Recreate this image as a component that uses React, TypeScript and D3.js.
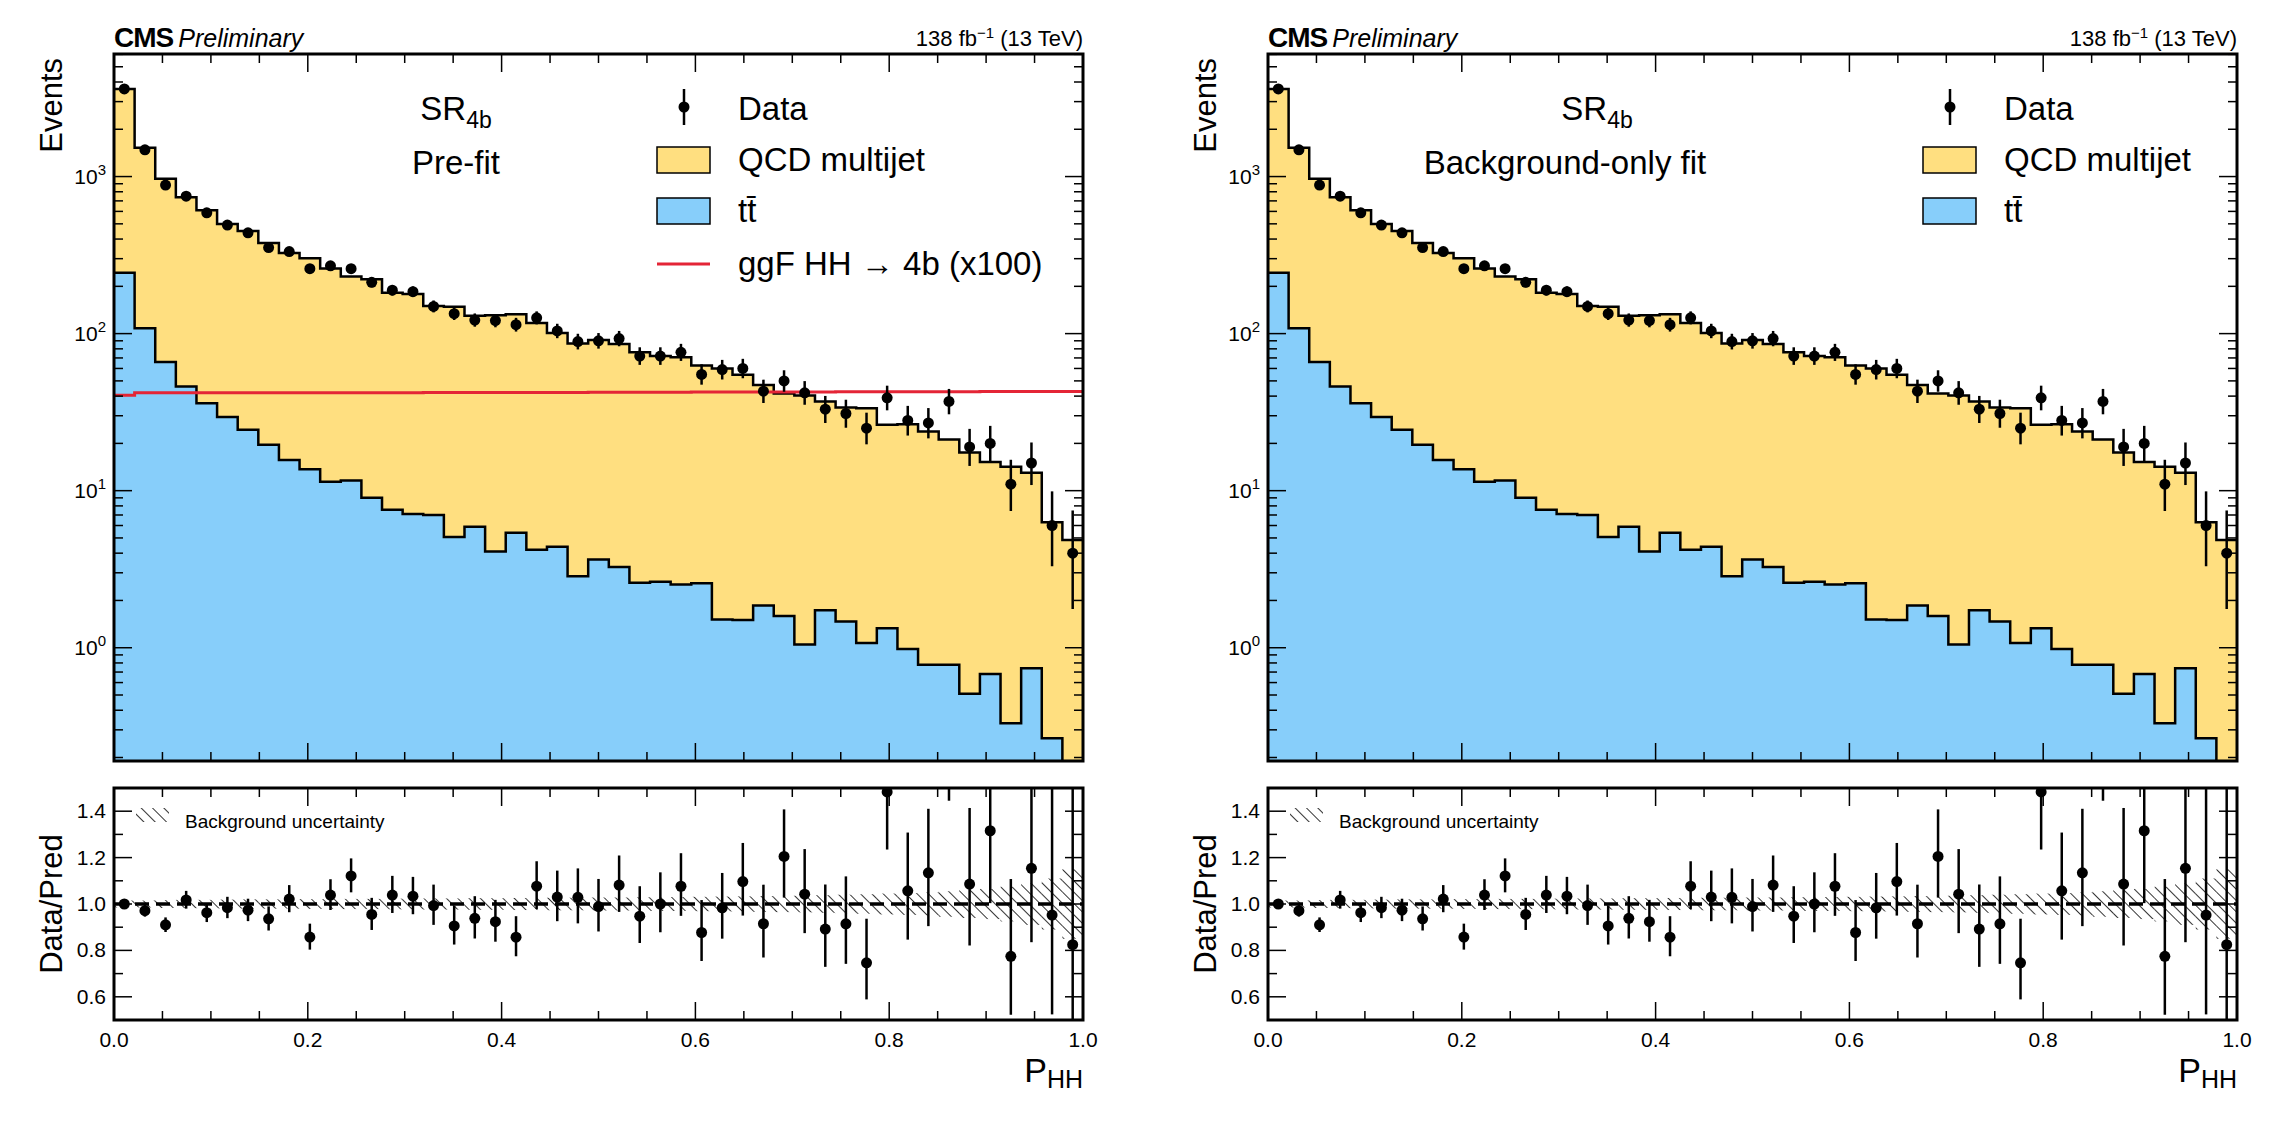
import * as React from 'react';
import * as d3 from 'd3';

// 47 uniform bins in P_HH
const nBins = 47;
const dataCounts = [3615, 1480, 882, 750, 588, 491, 438, 353, 333, 259, 270, 259, 212, 189, 185, 149, 134, 122, 121, 114, 126, 104, 89, 90, 93, 72, 72, 76, 55, 59, 60, 43, 50, 42, 33, 31, 25, 39, 28, 27, 37, 19, 20, 11, 15, 6, 4];
const totalBkg = [3615, 1524, 969, 737, 611, 499, 450, 377, 326, 302, 260, 231, 222, 182, 179, 150, 148, 130, 131, 133, 117, 101, 86.5, 91, 86, 76, 72, 70.6, 62.7, 60, 54.7, 47, 41.5, 40.3, 37, 33.9, 33.5, 26.3, 26.5, 23.8, 21.2, 17.5, 15.2, 14.2, 13, 6.3, 4.85];
const ttbar = [244, 108, 66, 46, 36, 29.4, 24.4, 19.6, 15.7, 13.7, 11.4, 11.6, 9.0, 7.55, 7.1, 7.0, 5.07, 5.9, 4.1, 5.4, 4.2, 4.4, 2.85, 3.64, 3.26, 2.59, 2.63, 2.53, 2.57, 1.51, 1.5, 1.86, 1.59, 1.05, 1.73, 1.47, 1.07, 1.33, 0.98, 0.78, 0.78, 0.51, 0.68, 0.33, 0.74, 0.265, 0.1];
const signalX100 = [40.5, 42, 42, 42, 42, 42, 42, 42, 42, 42, 42, 42, 42, 42, 42, 42.2, 42.2, 42.2, 42.2, 42.2, 42.2, 42.2, 42.2, 42.3, 42.3, 42.3, 42.3, 42.3, 42.5, 42.5, 42.5, 42.5, 42.5, 42.5, 42.5, 42.6, 42.6, 42.6, 42.6, 42.7, 42.7, 42.7, 42.8, 42.8, 42.8, 42.8, 42.8];
const bkgRelUnc = [0.015, 0.015, 0.017, 0.018, 0.018, 0.019, 0.02, 0.02, 0.02, 0.021, 0.021, 0.022, 0.022, 0.023, 0.023, 0.024, 0.024, 0.025, 0.025, 0.026, 0.026, 0.027, 0.027, 0.028, 0.028, 0.029, 0.03, 0.03, 0.031, 0.032, 0.033, 0.034, 0.035, 0.036, 0.038, 0.04, 0.042, 0.045, 0.047, 0.05, 0.055, 0.06, 0.065, 0.075, 0.09, 0.11, 0.15];
const xTicks = [0, 0.2, 0.4, 0.6, 0.8, 1.0];
const ratioTicks = [0.6, 0.8, 1.0, 1.2, 1.4];
const yDecades = [0, 1, 2, 3];

const W = 2284, H = 1134;
const FONT = 'Liberation Sans, Arial, Helvetica, sans-serif';
const QCD_COL = '#ffdf80';
const TT_COL = '#87cefa';

function garwood(n: number) {
  return [Math.max(n - Math.sqrt(Math.max(n - 0.25, 0)) - 0.3, 0), n + 1.3 + Math.sqrt(n + 0.75)];
}

interface PanelProps {
  x0: number;
  id: string;
  lines: string[];
  lineX: number[];
  legendShift: number;
  showSignal: boolean;
}

function Panel({ x0, id, lines, lineX, legendShift, showSignal }: PanelProps) {
  const x1 = x0 + 969;
  const mTop = 54, mBot = 761, rTop = 788, rBot = 1020;
  const x = d3.scaleLinear().domain([0, 1]).range([x0, x1]);
  const y = d3.scaleLog().domain([0.19, 6030]).range([mBot, mTop]);
  const yr = d3.scaleLinear().domain([0.5, 1.5]).range([rBot, rTop]);
  const edges = d3.range(nBins + 1).map(i => i / nBins);
  const centers = d3.range(nBins).map(i => (i + 0.5) / nBins);

  const stepPts = (vals: number[]) => [...vals, vals[vals.length - 1]].map((v, i) => [edges[i], v] as [number, number]);
  const area = d3.area<[number, number, number]>().x(d => x(d[0])).y0(d => d[1]).y1(d => d[2]).curve(d3.curveStepAfter);
  const line = d3.line<[number, number]>().x(d => x(d[0])).y(d => y(d[1])).curve(d3.curveStepAfter);

  const ttPts = stepPts(ttbar);
  const totPts = stepPts(totalBkg);
  const ttArea = area(ttPts.map(p => [p[0], mBot + 5, y(p[1])]));
  const qcdArea = area(ttPts.map((p, i) => [p[0], y(p[1]), y(totPts[i][1])]));

  const ticksY: JSX.Element[] = [];
  for (let d = -1; d <= 3; d++) {
    for (let m = 1; m <= 9; m++) {
      const v = m * Math.pow(10, d);
      if (v < 0.19 || v > 6030) continue;
      const len = m === 1 ? 18 : 9;
      ticksY.push(<line key={'l' + v} x1={x0} x2={x0 + len} y1={y(v)} y2={y(v)} stroke="#000" strokeWidth={1.5} />);
      ticksY.push(<line key={'r' + v} x1={x1} x2={x1 - len} y1={y(v)} y2={y(v)} stroke="#000" strokeWidth={1.5} />);
    }
  }
  const minorX = d3.range(0, 21).map(i => i * 0.05);
  const xTickMarks = (top: number, bot: number, k: string) => minorX.map(v => {
    const major = Math.abs(v * 5 - Math.round(v * 5)) < 1e-6;
    const len = major ? 18 : 9;
    return <g key={k + v}>
      <line x1={x(v)} x2={x(v)} y1={bot} y2={bot - len} stroke="#000" strokeWidth={1.5} />
      <line x1={x(v)} x2={x(v)} y1={top} y2={top + len} stroke="#000" strokeWidth={1.5} />
    </g>;
  });
  const ratioMinor = d3.range(0, 11).map(i => 0.5 + i * 0.1);

  const lx = x0 + 543 + legendShift;
  const ratio = dataCounts.map((n, i) => n / totalBkg[i]);

  return <g>
    <defs>
      <clipPath id={'cm' + id}><rect x={x0} y={mTop} width={969} height={mBot - mTop} /></clipPath>
      <clipPath id={'cr' + id}><rect x={x0} y={rTop} width={969} height={rBot - rTop} /></clipPath>
      <pattern id={'hatch' + id} patternUnits="userSpaceOnUse" width={8} height={8} patternTransform="rotate(-45)">
        <line x1={0} y1={0} x2={0} y2={8} stroke="#000" strokeWidth={1.6} />
      </pattern>
    </defs>
    {/* main panel */}
    <g clipPath={`url(#cm${id})`}>
      <path d={qcdArea || ''} fill={QCD_COL} />
      <path d={ttArea || ''} fill={TT_COL} />
      <path d={line(ttPts) || ''} fill="none" stroke="#000" strokeWidth={2.5} />
      <path d={line(totPts) || ''} fill="none" stroke="#000" strokeWidth={2.5} />
      {showSignal && <path d={line(stepPts(signalX100)) || ''} fill="none" stroke="#e42536" strokeWidth={3} />}
      {dataCounts.map((n, i) => {
        const [lo, hi] = garwood(n);
        return <g key={i}>
          <line x1={x(centers[i])} x2={x(centers[i])} y1={y(Math.max(lo, 0.01))} y2={y(hi)} stroke="#000" strokeWidth={2.5} />
          <circle cx={x(centers[i])} cy={y(n)} r={5.5} fill="#000" />
        </g>;
      })}
    </g>
    {ticksY}
    {xTickMarks(mTop, mBot, 'm')}
    <rect x={x0} y={mTop} width={969} height={mBot - mTop} fill="none" stroke="#000" strokeWidth={3} />
    {yDecades.map(d => <text key={d} x={x0 - 8} y={y(Math.pow(10, d)) + 7} textAnchor="end" fontFamily={FONT} fontSize={21}>
      10<tspan dy={-9} fontSize={15}>{d}</tspan></text>)}
    <text transform={`translate(${x0 - 52},${mTop + 4}) rotate(-90)`} textAnchor="end" fontFamily={FONT} fontSize={31}>Events</text>
    <text x={x0} y={47} fontFamily={FONT} fontSize={28} fontWeight="bold" letterSpacing={-1}>CMS<tspan fontWeight="normal" fontStyle="italic" fontSize={25} dx={5} letterSpacing={0}>Preliminary</tspan></text>
    <text x={x1} y={46} textAnchor="end" fontFamily={FONT} fontSize={22}>138 fb<tspan dy={-8} fontSize={15}>−1</tspan><tspan dy={8}> (13 TeV)</tspan></text>

    {/* labels */}
    <text x={x0 + lineX[0]} y={120} textAnchor="middle" fontFamily={FONT} fontSize={33}>SR<tspan dy={8} fontSize={23}>4b</tspan></text>
    <text x={x0 + lineX[1]} y={174} textAnchor="middle" fontFamily={FONT} fontSize={33}>{lines[1]}</text>

    {/* legend */}
    <line x1={lx + 27} x2={lx + 27} y1={89} y2={125} stroke="#000" strokeWidth={2.5} />
    <circle cx={lx + 27} cy={107} r={5.5} fill="#000" />
    <text x={lx + 81} y={120} fontFamily={FONT} fontSize={33}>Data</text>
    <rect x={lx} y={147} width={53} height={26} fill={QCD_COL} stroke="#000" strokeWidth={1.5} />
    <text x={lx + 81} y={171} fontFamily={FONT} fontSize={33}>QCD multijet</text>
    <rect x={lx} y={198} width={53} height={26} fill={TT_COL} stroke="#000" strokeWidth={1.5} />
    <text x={lx + 81} y={222} fontFamily={FONT} fontSize={33}>t{'t\u0304'}</text>
    {showSignal && <>
      <line x1={lx} x2={lx + 53} y1={264} y2={264} stroke="#e42536" strokeWidth={3} />
      <text x={lx + 81} y={275} fontFamily={FONT} fontSize={33}>ggF HH → 4b (x100)</text>
    </>}

    {/* ratio panel */}
    <g clipPath={`url(#cr${id})`}>
      {bkgRelUnc.map((u, i) => <rect key={i} x={x(edges[i])} width={x(edges[i + 1]) - x(edges[i])}
        y={yr(1 + u)} height={yr(1 - u) - yr(1 + u)} fill={`url(#hatch${id})`} />)}
      <line x1={x0} x2={x1} y1={yr(1)} y2={yr(1)} stroke="#000" strokeWidth={3.5} strokeDasharray="14,7" />
      {ratio.map((r, i) => {
        const [lo, hi] = garwood(dataCounts[i]);
        return <g key={i}>
          <line x1={x(centers[i])} x2={x(centers[i])} y1={yr(lo / totalBkg[i])} y2={yr(hi / totalBkg[i])} stroke="#000" strokeWidth={2.5} />
          <circle cx={x(centers[i])} cy={yr(r)} r={5.5} fill="#000" />
        </g>;
      })}
    </g>
    {ratioMinor.map(v => {
      const major = Math.abs(v * 5 - Math.round(v * 5)) < 1e-6;
      const len = major ? 18 : 9;
      return <g key={'rt' + v}>
        <line x1={x0} x2={x0 + len} y1={yr(v)} y2={yr(v)} stroke="#000" strokeWidth={1.5} />
        <line x1={x1} x2={x1 - len} y1={yr(v)} y2={yr(v)} stroke="#000" strokeWidth={1.5} />
      </g>;
    })}
    {xTickMarks(rTop, rBot, 'r')}
    <rect x={x0} y={rTop} width={969} height={rBot - rTop} fill="none" stroke="#000" strokeWidth={3} />
    {ratioTicks.map(v => <text key={v} x={x0 - 8} y={yr(v) + 7} textAnchor="end" fontFamily={FONT} fontSize={21}>{v.toFixed(1)}</text>)}
    {xTicks.map(v => <text key={v} x={x(v)} y={1047} textAnchor="middle" fontFamily={FONT} fontSize={21}>{v.toFixed(1)}</text>)}
    <text transform={`translate(${x0 - 52},${(rTop + rBot) / 2}) rotate(-90)`} textAnchor="middle" fontFamily={FONT} fontSize={31}>Data/Pred</text>
    <text x={x1} y={1082} textAnchor="end" fontFamily={FONT} fontSize={34}>P<tspan dy={6} fontSize={25}>HH</tspan></text>
    <rect x={x0 + 22} y={808} width={33} height={14} fill={`url(#hatch${id})`} />
    <text x={x0 + 71} y={828} fontFamily={FONT} fontSize={19}>Background uncertainty</text>
  </g>;
}

export default function App() {
  return <svg width={W} height={H} style={{ position: 'absolute', left: 0, top: 0, background: '#fff' }}>
    <rect width={W} height={H} fill="#fff" />
    <Panel x0={114} id="a" lines={['SR', 'Pre-fit']} lineX={[342, 342]} legendShift={0} showSignal={true} />
    <Panel x0={1268} id="b" lines={['SR', 'Background-only fit']} lineX={[329, 297]} legendShift={112} showSignal={false} />
  </svg>;
}
